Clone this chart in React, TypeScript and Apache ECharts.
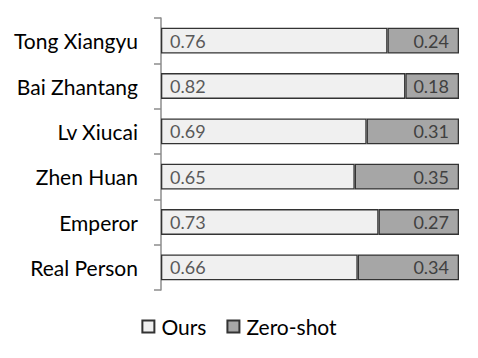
import React, { useEffect, useRef } from "react";
import * as echarts from "echarts";

const categories = ["Tong Xiangyu", "Bai Zhantang", "Lv Xiucai", "Zhen Huan", "Emperor", "Real Person"];
const oursValues = [0.76, 0.82, 0.69, 0.65, 0.73, 0.66];
const zeroShotValues = [0.24, 0.18, 0.31, 0.35, 0.27, 0.34];
const seriesNames = ["Ours", "Zero-shot"];

const FONT = "Lato, 'Open Sans', sans-serif";

export default function App() {
  const ref = useRef<HTMLDivElement>(null);
  useEffect(() => {
    if (!ref.current) return;
    const chart = echarts.init(ref.current, null, { renderer: "svg" });
    chart.setOption({
      animation: false,
      backgroundColor: "#ffffff",
      grid: { left: 161, right: 19, top: 18, bottom: 68, containLabel: false },
      xAxis: {
        type: "value",
        min: 0,
        max: 1,
        show: false,
      },
      yAxis: {
        type: "category",
        data: categories,
        inverse: true,
        axisLine: { show: true, lineStyle: { color: "#8c8c8c", width: 1.5 } },
        axisTick: { show: true, length: 7, inside: false, alignWithLabel: false, lineStyle: { color: "#8c8c8c", width: 1.5 } },
        axisLabel: { color: "#000000", fontSize: 21, fontFamily: FONT, margin: 23 },
        splitLine: { show: false },
      },
      legend: {
        bottom: 16,
        left: "center",
        icon: "rect",
        itemWidth: 12,
        itemHeight: 12,
        itemGap: 20,
        textStyle: { color: "#000000", fontSize: 21, fontFamily: FONT, padding: [0, 0, 0, 2] },
        data: seriesNames,
      },
      series: [
        {
          name: seriesNames[0],
          type: "bar",
          stack: "total",
          data: oursValues,
          barWidth: "57%",
          itemStyle: { color: "#f0f0f0", borderColor: "#333333", borderWidth: 1.3 },
          label: {
            show: true,
            position: "insideLeft",
            distance: 9,
            color: "#595959",
            fontSize: 18,
            fontFamily: FONT,
            formatter: (p: any) => p.value.toFixed(2),
          },
        },
        {
          name: seriesNames[1],
          type: "bar",
          stack: "total",
          data: zeroShotValues,
          barWidth: "57%",
          itemStyle: { color: "#a6a6a6", borderColor: "#333333", borderWidth: 1.3 },
          label: {
            show: true,
            position: "insideRight",
            distance: 10,
            color: "#404040",
            fontSize: 18,
            fontFamily: FONT,
            formatter: (p: any) => p.value.toFixed(2),
          },
        },
      ],
    });
    return () => chart.dispose();
  }, []);
  return <div ref={ref} style={{ width: 478, height: 358, position: "absolute", left: 0, top: 0 }} />;
}
